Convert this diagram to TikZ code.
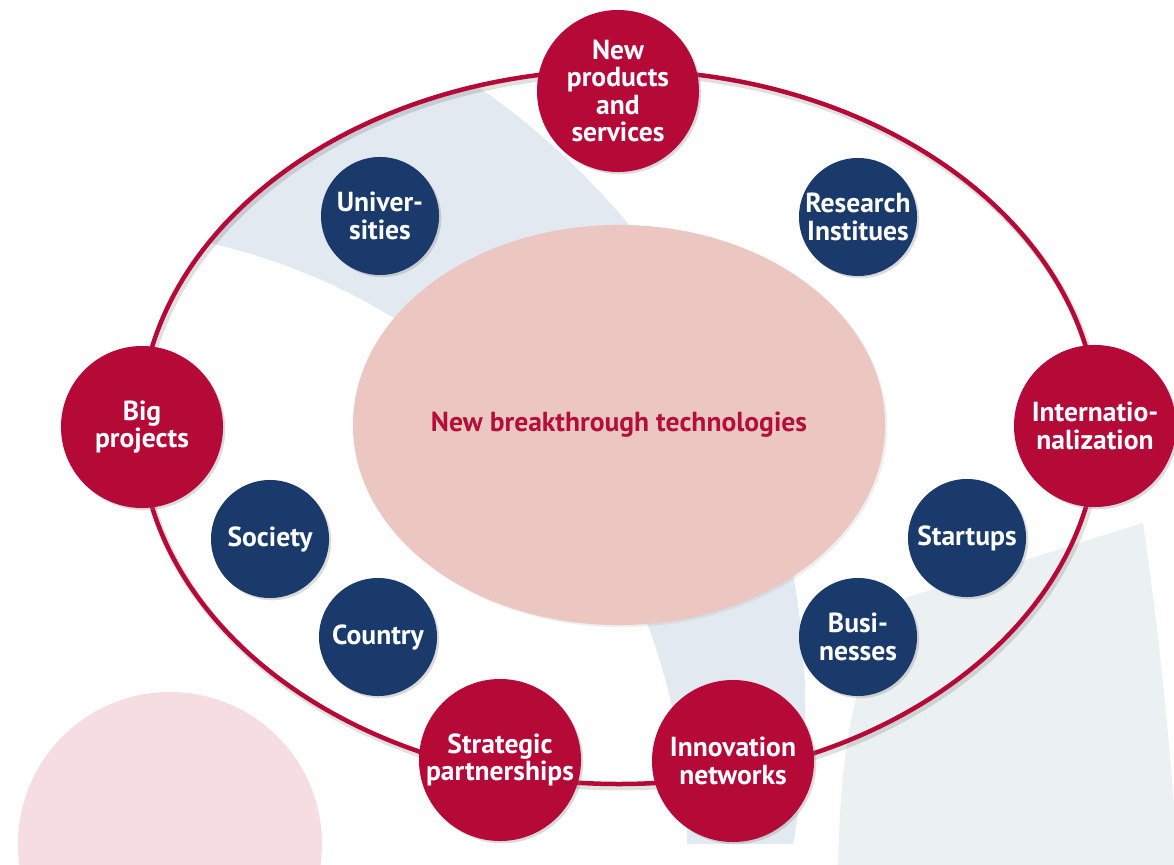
\documentclass[tikz,border=0pt]{standalone}
\usepackage{fontspec}
\setmainfont{PT Sans}
\usetikzlibrary{shadows,shapes.geometric}
\definecolor{crim}{RGB}{181,9,55}
\definecolor{navy}{RGB}{26,58,107}
\definecolor{pinkel}{RGB}{236,198,193}
\definecolor{pinkc}{RGB}{246,221,226}
\definecolor{bandc}{RGB}{226,233,240}
\definecolor{bglight}{RGB}{235,240,243}
\definecolor{ctext}{RGB}{178,16,58}
\begin{document}
\begin{tikzpicture}[x=0.025cm,y=-0.025cm,
  base/.style={circle, inner sep=0pt, align=center, text=white,
    font=\bfseries\fontsize{19.6}{19.6}\selectfont,
    drop shadow={opacity=0.28, shadow xshift=1.6pt, shadow yshift=-1.6pt}},
  rednode/.style={base, fill=crim, minimum size=4.05cm},
  bluenode/.style={base, fill=navy, minimum size=2.95cm},
  coreell/.style={ellipse, fill=pinkel, inner sep=0pt, minimum width=13.3cm, minimum height=10cm,
    text=ctext, font=\bfseries\fontsize{19.6}{19.6}\selectfont},
  ringline/.style={draw=crim, line width=3.2pt},
  ringshadow/.style={draw=black, opacity=0.12, line width=4.8pt}
]
\useasboundingbox (0,0) rectangle (1174,865);
\clip (0,0) rectangle (1174,865);
% background shapes
\fill[white] (0,0) rectangle (1174,865);
\fill[pinkc] (170,844) circle (152);
\fill[bglight] (905,598) -- (1143,523) .. controls (1160,640) and (1172,760) .. (1178,870)
  -- (838,870) .. controls (840,780) and (846,665) .. (905,598) -- cycle;
\begin{scope}
  \clip (619,427) ellipse [x radius=479, y radius=357];
  \clip (0,0) rectangle (1174,843);
  \fill[bandc, even odd rule] (48,710) circle (757) (74,841) circle (613);
\end{scope}
\begin{scope}
  \clip (560,560) rectangle (1174,843);
  \fill[bandc, even odd rule] (48,710) circle (757) (74,841) circle (613);
\end{scope}
% outer ring
\draw[ringshadow] (621,430) ellipse [x radius=479, y radius=357];
\draw[ringline] (619,427) ellipse [x radius=479, y radius=357];
% core
\node[coreell, drop shadow={opacity=0.12, shadow xshift=1.5pt, shadow yshift=-1.5pt}] (core) at (619,425) {New breakthrough technologies};
% red nodes
\node[rednode] (np) at (618,91) {New\\products\\and\\services};
\node[rednode] (big) at (142,427) {Big\\projects};
\node[rednode] (intl) at (1095,426) {Internatio-\\nalization};
\node[rednode] (strat) at (500,760) {Strategic\\partnerships};
\node[rednode] (innov) at (733,761) {Innovation\\networks};
% blue nodes
\node[bluenode] (univ) at (380,216) {Univer-\\sities};
\node[bluenode] (res) at (858,217) {Research\\Institues};
\node[bluenode] (soc) at (270,539) {Society};
\node[bluenode] (cty) at (378,637) {Country};
\node[bluenode] (start) at (967,538) {Startups};
\node[bluenode] (bus) at (858,637) {Busi-\\nesses};
\end{tikzpicture}
\end{document}
